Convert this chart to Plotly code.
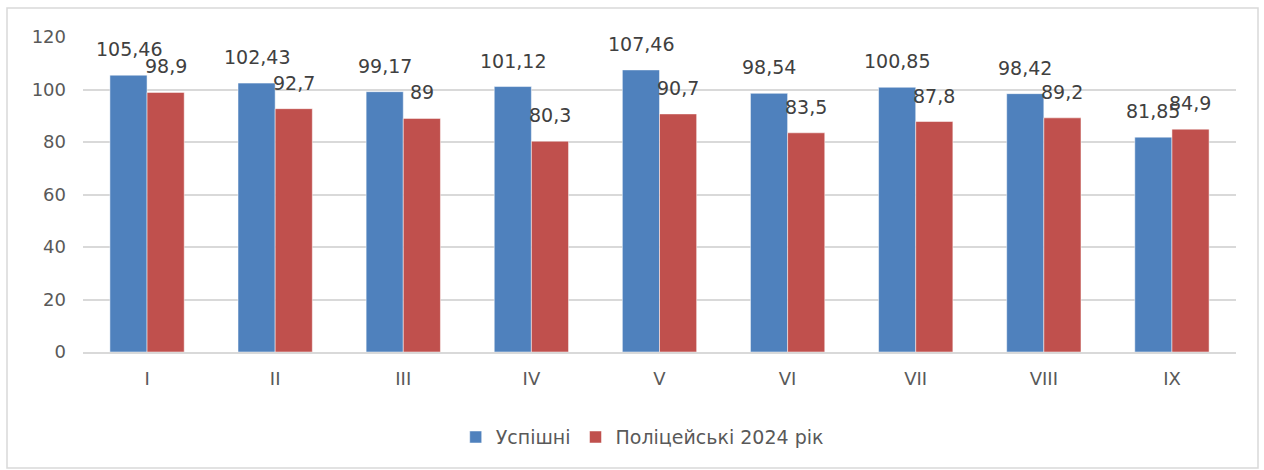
import plotly.graph_objects as go

categories = ["I", "II", "III", "IV", "V", "VI", "VII", "VIII", "IX"]
uspishni = [105.46, 102.43, 99.17, 101.12, 107.46, 98.54, 100.85, 98.42, 81.85]
politseiski = [98.9, 92.7, 89, 80.3, 90.7, 83.5, 87.8, 89.2, 84.9]
series_names = ["Успішні", "Поліцейські 2024 рік"]

def fmt(v):
    s = ("%.2f" % v).rstrip("0").rstrip(".")
    return s.replace(".", ",")

FONT = "DejaVu Sans, sans-serif"
TXT = "#404040"
BAR_PX = 37  # approx. bar width in px for label offset

fig = go.Figure()
fig.add_trace(go.Bar(x=categories, y=uspishni, name=series_names[0],
                     marker=dict(color="#4f81bd", line=dict(color="#ffffff", width=0.5))))
fig.add_trace(go.Bar(x=categories, y=politseiski, name=series_names[1],
                     marker=dict(color="#c0504d", line=dict(color="#ffffff", width=0.5))))

annotations = []
for series, shift in ((uspishni, -BAR_PX / 2), (politseiski, BAR_PX / 2)):
    for c, v in zip(categories, series):
        annotations.append(dict(x=c, y=v, xref="x", yref="y", text=fmt(v), showarrow=False,
                                xanchor="center", yanchor="bottom", xshift=shift, yshift=13,
                                font=dict(size=19, color=TXT, family=FONT)))

fig.update_layout(
    width=1264, height=470,
    margin=dict(l=83, r=28, t=37, b=118),
    paper_bgcolor="white", plot_bgcolor="white",
    barmode="group", bargap=0.42, bargroupgap=0,
    font=dict(family=FONT, color="#595959", size=18),
    showlegend=True,
    legend=dict(orientation="h", x=0.485, xanchor="center", y=-0.21, yanchor="top",
                font=dict(size=19, color="#595959"), itemwidth=30, tracegroupgap=0),
    xaxis=dict(showgrid=False, showline=True, linecolor="#d9d9d9", linewidth=1.5,
               ticks="", tickfont=dict(size=18, color="#595959"), ticklabelstandoff=10),
    yaxis=dict(range=[0, 120], dtick=20, showgrid=True, gridcolor="#d9d9d9", gridwidth=1.5,
               zeroline=False, showline=False, ticks="", ticklen=0,
               tickfont=dict(size=18, color="#595959"), ticklabelstandoff=16),
    annotations=annotations,
    shapes=[dict(type="rect", xref="paper", yref="paper",
                 x0=(7 - 83) / 1153, x1=(1258 - 83) / 1153,
                 y0=(352 - 468) / 315, y1=(352 - 8) / 315,
                 line=dict(color="#d9d9d9", width=1.5), fillcolor="rgba(0,0,0,0)", layer="below")],
)

fig.write_html("out.html", config={"displayModeBar": False},
               post_script="document.body.style.margin='0';document.body.style.overflow='hidden';")
